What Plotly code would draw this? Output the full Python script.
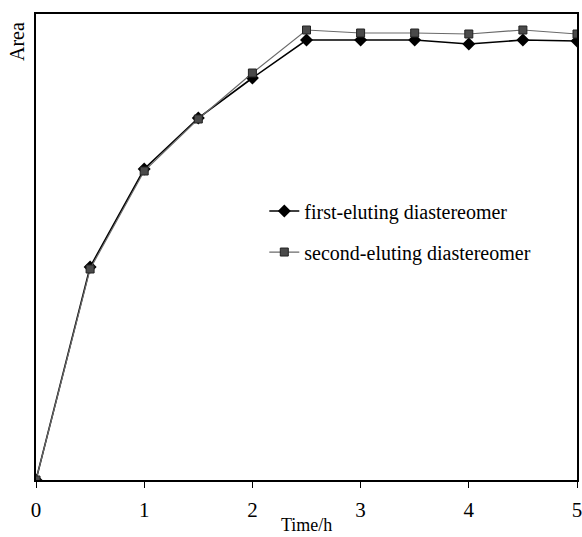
import plotly.graph_objects as go

time_h = [0, 0.5, 1, 1.5, 2, 2.5, 3, 3.5, 4, 4.5, 5]
first_eluting = [0, 213, 311, 362, 402, 440, 440, 440, 436, 440, 439]
second_eluting = [0, 211, 309, 361, 407, 450, 447, 447, 446, 450, 446]
x_ticks = [0, 1, 2, 3, 4, 5]

FONT = "Liberation Serif, Times New Roman, serif"

fig = go.Figure()
fig.add_trace(go.Scatter(
    x=time_h, y=first_eluting, mode="lines+markers",
    name="first-eluting diastereomer", legendgroup="a",
    line=dict(color="black", width=1.6),
    marker=dict(symbol="diamond", size=10, color="black"),
))
fig.add_trace(go.Scatter(
    x=time_h, y=second_eluting, mode="lines+markers",
    name="second-eluting diastereomer", legendgroup="b",
    line=dict(color="#6a6a6a", width=1.2),
    marker=dict(symbol="square", size=8, color="#4a4a4a",
                line=dict(color="#222", width=1)),
))

fig.update_layout(
    width=582, height=537,
    margin=dict(l=36, r=5, t=14, b=57),
    plot_bgcolor="white", paper_bgcolor="white",
    font=dict(family=FONT, size=18, color="black"),
    showlegend=True,
    legend=dict(x=0.422, y=0.619, xanchor="left", yanchor="top",
                bgcolor="rgba(0,0,0,0)", tracegroupgap=12,
                font=dict(family=FONT, size=20)),
    xaxis=dict(range=[0, 5], tickvals=x_ticks, ticks="outside", ticklen=6,
               tickcolor="black", showline=True, linecolor="black", linewidth=1.5,
               mirror=True, showgrid=False, zeroline=False, automargin=False,
               ticklabelstandoff=4, ticklabeloverflow="allow",
               tickfont=dict(size=21)),
    yaxis=dict(range=[0, 466], showticklabels=False, ticks="",
               showline=True, linecolor="black", linewidth=1.5, mirror=True,
               showgrid=False, zeroline=False, automargin=False),
    annotations=[
        dict(text="Area", textangle=-90, xref="paper", yref="paper",
             x=-0.035, y=0.94, xanchor="center", yanchor="middle",
             showarrow=False, font=dict(family=FONT, size=20)),
        dict(text="Time/h", xref="paper", yref="paper",
             x=0.5, y=-0.097, xanchor="center", yanchor="middle",
             showarrow=False, font=dict(family=FONT, size=18)),
    ],
)

fig.write_html("out.html", config={"displayModeBar": False},
               post_script="document.body.style.margin='0';document.body.style.overflow='hidden';")
